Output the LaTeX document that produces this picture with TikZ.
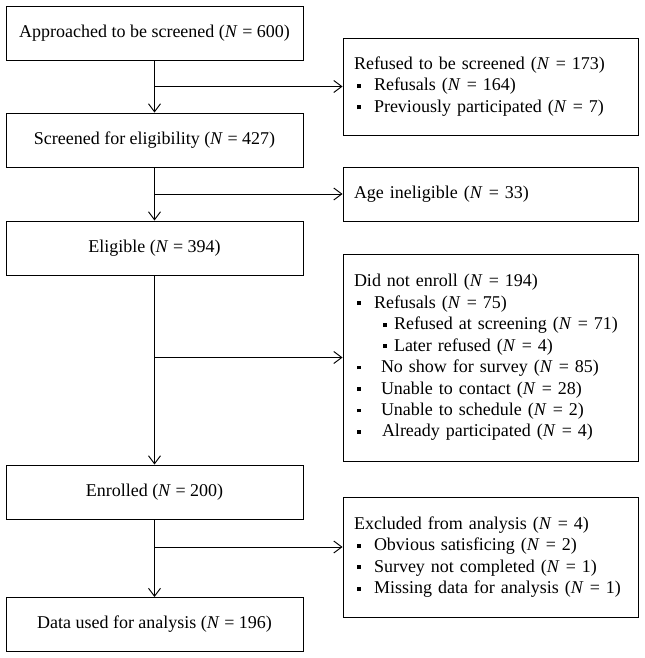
\documentclass[tikz,border=0pt]{standalone}
\usepackage{fontspec}
\setmainfont{Liberation Serif}
\usetikzlibrary{arrows.meta}
\newcommand{\cnt}[1]{(\textit{N} = #1)}
\newcommand{\sq}[3]{\makebox[#2][l]{\hspace*{#1}\rule[2.3pt]{2.9pt}{2.9pt}}#3}

\begin{document}
\begin{tikzpicture}[x=0.75pt, y=-0.75pt, font=\fontsize{13.5}{16.1}\selectfont,
	lbox/.style={draw, line width=0.7pt, minimum width=222.75pt, minimum height=40.5pt, inner sep=0pt},
	rbox/.style={draw, line width=0.7pt, text width=204.75pt, align=left, inner xsep=8.25pt, inner ysep=0pt},
	flow/.style={line width=0.7pt, -{Straight Barb[length=6pt, width=9pt]}}]
	\useasboundingbox (0,0) rectangle (645,658);
	\node[lbox] (approached) at (154.5,33) {Approached to be screened \cnt{600}};
	\node[lbox] (screened) at (154.5,140) {Screened for eligibility \cnt{427}};
	\node[lbox] (eligible) at (154.5,248) {Eligible \cnt{394}};
	\node[lbox] (enrolled) at (154.5,492) {Enrolled \cnt{200}};
	\node[lbox] (data) at (154.5,624.5) {Data used for analysis \cnt{196}};
	\node[rbox, minimum height=72.75pt] (refused) at (490.5,86.5) {Refused to be screened \cnt{173}\\
		\sq{2.25pt}{15pt}{Refusals \cnt{164}}\\
		\sq{2.25pt}{15pt}{Previously participated \cnt{7}}};
	\node[rbox, minimum height=40.5pt] (age) at (490.5,194) {Age ineligible \cnt{33}};
	\node[rbox, minimum height=155.25pt] (notenroll) at (490.5,357.5) {Did not enroll \cnt{194}\\
		\sq{2.25pt}{15pt}{Refusals \cnt{75}}\\
		\sq{21.75pt}{30pt}{Refused at screening \cnt{71}}\\
		\sq{21.75pt}{30pt}{Later refused \cnt{4}}\\
		\sq{2.25pt}{20.25pt}{No show for survey \cnt{85}}\\
		\sq{2.25pt}{20.25pt}{Unable to contact \cnt{28}}\\
		\sq{2.25pt}{20.25pt}{Unable to schedule \cnt{2}}\\
		\sq{2.25pt}{21pt}{Already participated \cnt{4}}};
	\node[rbox, minimum height=90pt] (excluded) at (490.5,557) {Excluded from analysis \cnt{4}\\
		\sq{2.25pt}{15pt}{Obvious satisficing \cnt{2}}\\
		\sq{2.25pt}{15pt}{Survey not completed \cnt{1}}\\
		\sq{2.25pt}{15pt}{Missing data for analysis \cnt{1}}};
	\coordinate (split) at (154.5,547);
	\draw[flow] (approached) -- (screened);
	\draw[flow] (screened) -- (eligible);
	\draw[flow] (eligible) -- (enrolled);
	\draw[flow] (enrolled) -- (data);
	\draw[flow] (approached.south |- refused.west) -- (refused.west);
	\draw[flow] (screened.south |- age.west) -- (age.west);
	\draw[flow] (eligible.south |- notenroll.west) -- (notenroll.west);
	\draw[flow] (split) -- (split -| excluded.west);
\end{tikzpicture}
\end{document}
